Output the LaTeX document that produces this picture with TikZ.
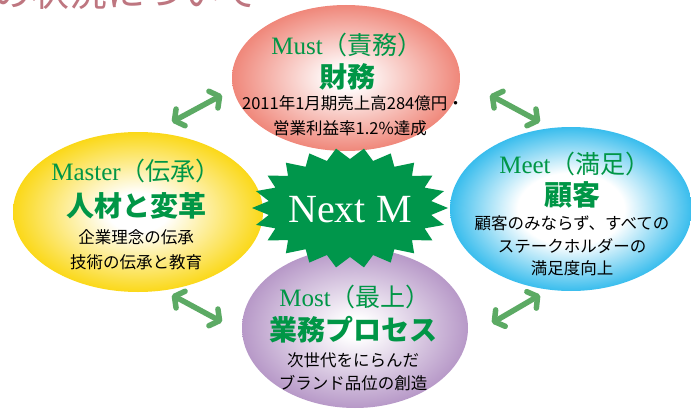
\documentclass[tikz,border=0pt]{standalone}
\usepackage{fontspec}
\setmainfont{Liberation Serif}
\newfontfamily\jpf{Noto Sans CJK JP}
\usetikzlibrary{arrows.meta}
\definecolor{mustc}{RGB}{236, 108, 92}
\definecolor{mastc}{RGB}{250, 212, 0}
\definecolor{meetc}{RGB}{0, 170, 232}
\definecolor{mostc}{RGB}{160, 120, 182}
\definecolor{tg}{RGB}{0, 150, 70}
\definecolor{nmg}{RGB}{0, 150, 75}
\definecolor{ag}{RGB}{92, 170, 100}
\definecolor{pk}{RGB}{190, 118, 128}
\pgfdeclareradialshading{shmust}{\pgfpoint{0bp}{0bp}}{color(0bp)=(white); color(3bp)=(white); color(30bp)=(mustc); color(50bp)=(mustc)}
\pgfdeclareradialshading{shmast}{\pgfpoint{0bp}{0bp}}{color(0bp)=(white); color(6bp)=(white); color(27bp)=(mastc); color(50bp)=(mastc)}
\pgfdeclareradialshading{shmeet}{\pgfpoint{0bp}{0bp}}{color(0bp)=(white); color(11bp)=(white); color(29bp)=(meetc); color(50bp)=(meetc)}
\pgfdeclareradialshading{shmost}{\pgfpoint{0bp}{0bp}}{color(0bp)=(white); color(3bp)=(white); color(32bp)=(mostc); color(50bp)=(mostc)}
\tikzset{>=latex}

\begin{document}
\begin{tikzpicture}[
    x = 1pt, y = -1pt,
    ttl/.style = {text = tg, font = \fontsize{25}{25}\selectfont},
    ttj/.style = {text = tg, font = \jpf\bfseries\fontsize{28}{28}\selectfont},
    sub/.style = {text = black, font = \jpf\fontsize{16.5}{16.5}\selectfont},
    dbl/.style = {draw = ag, line width = 5.5pt, {Straight Barb[length=7pt, width=19pt, round]}-{Straight Barb[length=7pt, width=19pt, round]}},
]
\useasboundingbox (0,0) rectangle (691,412);
\clip (0,0) rectangle (691,412);

% heading, cut at the top
\node[anchor = base west, text = pk, font = \jpf\fontsize{38}{38}\selectfont] (hd) at (-10, 7) {の状況について};

% the four ellipses
\shade[shading = shmust] (346, 78) ellipse [x radius = 114, y radius = 73];
\shade[shading = shmast] (138, 212) ellipse [x radius = 125, y radius = 80];
\shade[shading = shmeet] (571, 209) ellipse [x radius = 121, y radius = 82];
\shade[shading = shmost] (355, 328) ellipse [x radius = 113, y radius = 80];

% star
\fill[nmg] plot[samples at = {0,...,43}, variable = \k]
  ({350 + (98 - 16*mod(\k,2))*cos(360/44*\k + 180)}, {208 + (60 - 11*mod(\k,2))*sin(360/44*\k + 180)}) -- cycle;
\node[text = white, font = \fontsize{40}{40}\selectfont] (nm) at (350, 210) {Next M};

% Must
\node[ttl] (must1) at (347, 45) {Must\jpf（責務）};
\node[ttj] (must2) at (347, 77) {財務};
\node[sub] (must3) at (353, 103) {2011年1月期売上高284億円・};
\node[sub] (must4) at (350, 128) {営業利益率1.2\%達成};

% Master
\node[ttl] (mast1) at (136, 171) {Master\jpf（伝承）};
\node[ttj] (mast2) at (136, 206) {人材と変革};
\node[sub] (mast3) at (136, 237) {企業理念の伝承};
\node[sub] (mast4) at (136, 262) {技術の伝承と教育};

% Meet
\node[ttl] (meet1) at (575, 164) {Meet\jpf（満足）};
\node[ttj] (meet2) at (572, 195) {顧客};
\node[sub] (meet3) at (572, 223) {顧客のみならず、すべての};
\node[sub] (meet4) at (572, 246) {ステークホルダーの};
\node[sub] (meet5) at (572, 268) {満足度向上};

% Most
\node[ttl] (most1) at (355, 297) {Most\jpf（最上）};
\node[ttj] (most2) at (353, 330) {業務プロセス};
\node[sub] (most3) at (353, 360) {次世代をにらんだ};
\node[sub] (most4) at (353, 383) {ブランド品位の創造};

% arrows
\coordinate (a1) at (172, 122); \coordinate (b1) at (222, 95);
\coordinate (a2) at (490, 95);  \coordinate (b2) at (540, 122);
\coordinate (a3) at (172, 295); \coordinate (b3) at (222, 322);
\coordinate (a4) at (492, 323); \coordinate (b4) at (540, 295);
\draw[dbl] (a1) -- (b1);
\draw[dbl] (a2) -- (b2);
\draw[dbl] (a3) -- (b3);
\draw[dbl] (a4) -- (b4);
\end{tikzpicture}
\end{document}
